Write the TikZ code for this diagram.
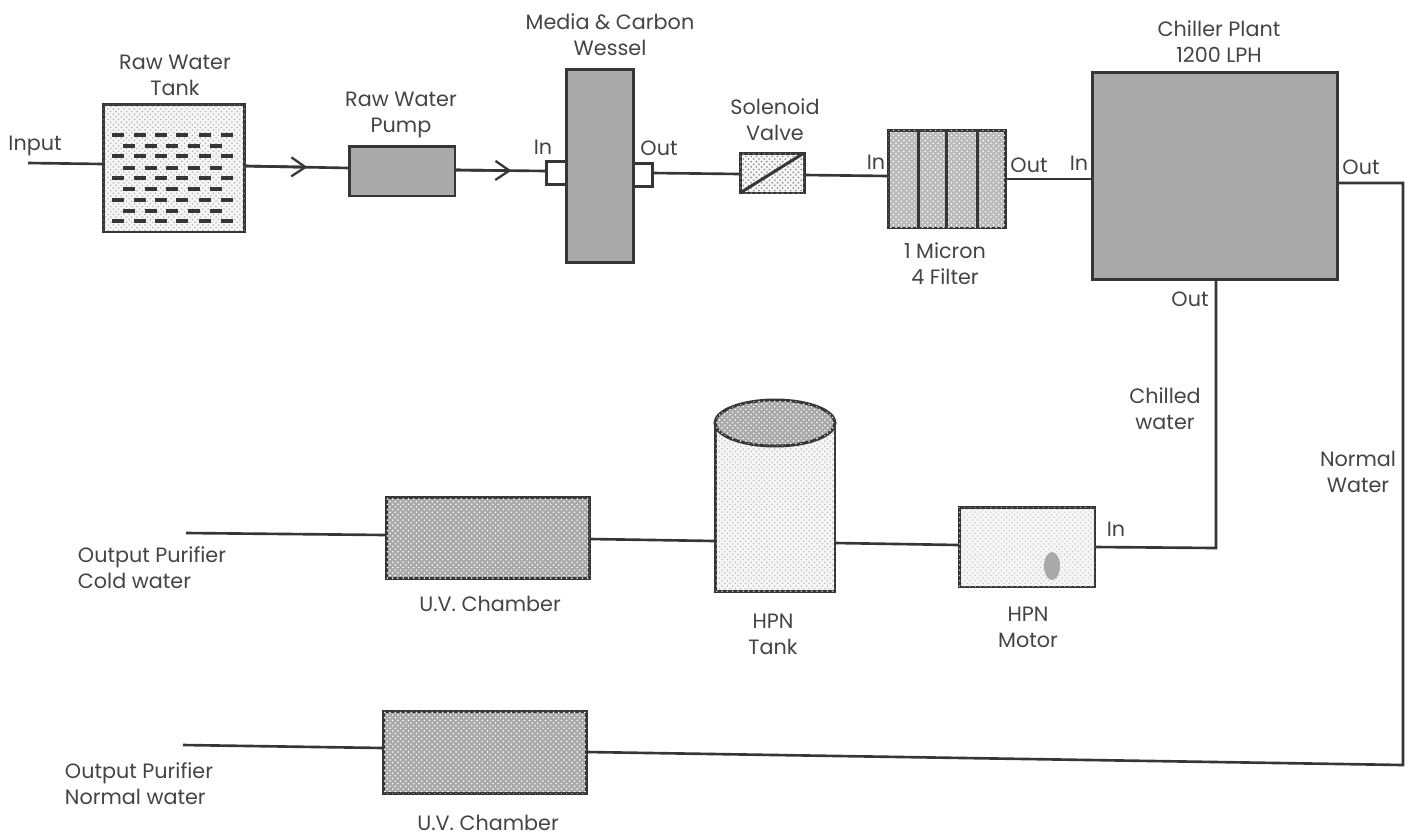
\documentclass[tikz,border=0pt]{standalone}
\usepackage{fontspec}
\setmainfont{Poppins}
\usepackage{xcolor}
\usetikzlibrary{calc,arrows.meta,shapes.geometric,patterns}
\definecolor{inkc}{HTML}{363636}
\definecolor{textc}{HTML}{444444}
\definecolor{solidc}{HTML}{A9A9A9}
\definecolor{softc}{HTML}{F6F6F6}
\tikzset{
  pipe/.style={draw=inkc,line width=1.5pt},
  chev/.style={-{Straight Barb[length=2.8mm,width=3.8mm,line width=1.3pt]}},
  unit/.style={draw=inkc,line width=1.7pt,inner sep=0pt,outer sep=0pt,fill=solidc},
  stip/.style={postaction={pattern=crosshatch dots,pattern color=#1}},
  lbl/.style={text=textc,align=center,inner sep=0pt,font=\fontsize{11.8}{14.8}\selectfont}
}
\begin{document}
\begin{tikzpicture}[x=0.02cm,y=-0.02cm]
\useasboundingbox (0,0) rectangle (1415,839);
% top row
\node[unit,fill=softc,stip=gray!60,minimum width=2.84cm,minimum height=2.56cm] (rawtank) at (174,168) {};
\foreach \yy in {135,156,178,200,221}{
 \foreach \xx in {118,140,161,182,205,227}
  \draw[inkc,line width=1.9pt] (\xx-6,\yy) -- (\xx+6,\yy);}
\foreach \yy in {146,168,189,211}{
 \foreach \xx in {129,151,172,194,216}
  \draw[inkc,line width=1.9pt] (\xx-6,\yy) -- (\xx+6,\yy);}
\node[unit,minimum width=2.12cm,minimum height=1cm] (rawpump) at (402,171) {};
\node[unit,fill=white,minimum width=0.4cm,minimum height=0.46cm] (inport) at (556,173) {};
\node[unit,fill=white,minimum width=0.4cm,minimum height=0.46cm] (outport) at (642,175) {};
\node[unit,minimum width=1.34cm,minimum height=3.86cm] (vessel) at (600,166) {};
\node[unit,fill=softc,stip=gray,minimum width=1.28cm,minimum height=0.8cm] (valve) at (772,173) {};
\draw[pipe,line width=1.7pt] (valve.south west) -- (valve.north east);
\node[unit,fill=solidc!80!white,stip=white,minimum width=2.34cm,minimum height=1.96cm] (filter) at (947,179) {};
\foreach \xd in {918,946,977}
 \draw[pipe,line width=1.7pt] (\xd,130) -- (\xd,228);
\node[unit,minimum width=4.9cm,minimum height=4.14cm] (chiller) at (1215,176) {};
% lower rows
\node[unit,fill=softc,stip=gray!50,minimum width=2.4cm,minimum height=3.38cm] (hpntank) at (775,507) {};
\node[unit,ellipse,fill=solidc,stip=white,minimum width=2.4cm,minimum height=0.92cm] (hpntop) at (775,423) {};
\node[unit,fill=softc,stip=gray!40,minimum width=2.72cm,minimum height=1.6cm] (motor) at (1027,547) {};
\fill[solidc] (1052,566) ellipse (8 and 14);
\node[unit,stip=white,minimum width=4.08cm,minimum height=1.62cm] (uvcold) at (488,538) {};
\node[unit,stip=white,minimum width=4.08cm,minimum height=1.64cm] (uvnormal) at (485,752) {};
% free ends of the pipes
\coordinate (inputend) at (28,163);
\coordinate (coldend) at (186,533);
\coordinate (normalend) at (183,745);
\coordinate (chillturn) at (1216,548);
\coordinate (normalturn) at (1403,183);
\coordinate (normalback) at (1403,765);
\coordinate (tankout) at ($(rawtank.east)+(0,-2)$);
\coordinate (pumpin) at ($(rawpump.west)+(0,-3)$);
\coordinate (pumpout) at ($(rawpump.east)+(0,-1)$);
\coordinate (portin) at ($(inport.west)+(0,-2)$);
% pipes
\draw[pipe] (inputend) -- ($(rawtank.west)+(0,-4)$);
\draw[pipe] (tankout) -- (pumpin);
\draw[pipe,chev] (tankout) -- ($(tankout)!0.6!(pumpin)$);
\draw[pipe] (pumpout) -- (portin);
\draw[pipe,chev] (pumpout) -- ($(pumpout)!0.62!(portin)$);
\draw[pipe] ($(outport.east)+(0,-2)$) -- ($(valve.west)+(0,1)$);
\draw[pipe] ($(valve.east)+(0,2)$) -- ($(filter.west)+(0,-3)$);
\draw[pipe] (filter.east) -- (filter.east-|chiller.west);
\draw[pipe] (chiller.east|-normalturn) -- (normalturn) -- (normalback) -- (uvnormal.east);
\draw[pipe] (chiller.south-|chillturn) -- (chillturn) -- (motor.east);
\draw[pipe] ($(motor.west)+(0,-2)$) -- ($(hpntank.east|-motor.west)+(0,-4)$);
\draw[pipe] ($(hpntank.west|-uvcold.east)+(0,3)$) -- ($(uvcold.east)+(0,1)$);
\draw[pipe] ($(uvcold.west)+(0,-3)$) -- (coldend);
\draw[pipe] ($(uvnormal.west)+(0,-4)$) -- (normalend);
% labels
\node[lbl] (inputlbl) at (35,146) {Input};
\node[lbl] (tanklbl) at (175,75) {Raw Water\\Tank};
\node[lbl] (pumplbl) at (401,115) {Raw Water\\Pump};
\node[lbl] (vessellbl) at (610,35) {Media \& Carbon\\Wessel};
\node[lbl] (inportlbl) at (543,147) {In};
\node[lbl] (outportlbl) at (659,148) {Out};
\node[lbl] (valvelbl) at (775,120) {Solenoid\\Valve};
\node[lbl] (filterinlbl) at (876,162) {In};
\node[lbl] (filterlbl) at (945,264) {1 Micron\\4 Filter};
\node[lbl] (filteroutlbl) at (1029,165) {Out};
\node[lbl] (chillerinlbl) at (1079,163) {In};
\node[lbl] (chillerlbl) at (1219,42) {Chiller Plant\\1200 LPH};
\node[lbl] (chilloutlbl) at (1361,167) {Out};
\node[lbl] (belowoutlbl) at (1190,299) {Out};
\node[lbl] (chilledlbl) at (1165,409) {Chilled\\water};
\node[lbl] (normallbl) at (1358,472) {Normal\\Water};
\node[lbl] (motorinlbl) at (1116,529) {In};
\node[lbl] (motorlbl) at (1028,627) {HPN\\Motor};
\node[lbl] (hpnlbl) at (773,634) {HPN\\Tank};
\node[lbl] (uvcoldlbl) at (490,604) {U.V. Chamber};
\node[lbl,align=left] (coldlbl) at (152,568) {Output Purifier\\Cold water};
\node[lbl,align=left] (normaloutlbl) at (139,784) {Output Purifier\\Normal water};
\node[lbl] (uvnormallbl) at (488,823) {U.V. Chamber};
\end{tikzpicture}
\end{document}
